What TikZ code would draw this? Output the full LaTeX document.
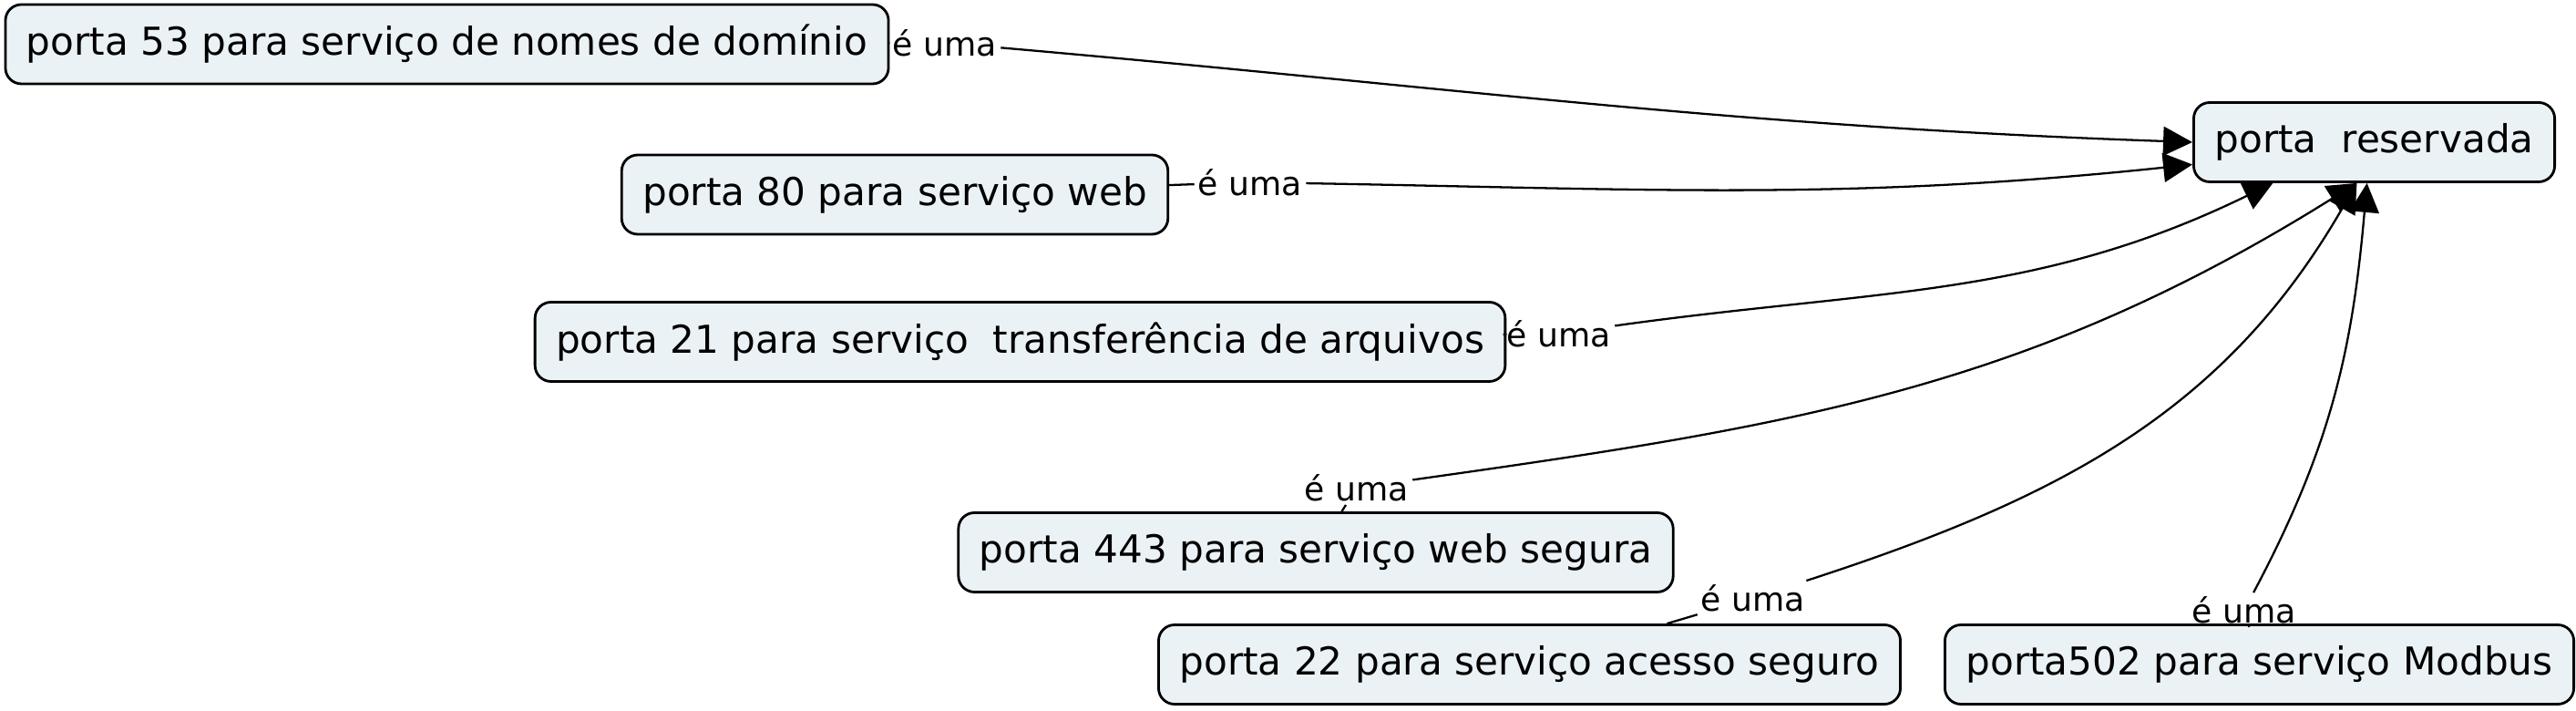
\documentclass[tikz,border=0pt]{standalone}
\usepackage{fontspec}
\setmainfont{DejaVu Sans}
\usetikzlibrary{arrows.meta}
\definecolor{conceptfill}{RGB}{235,242,245}

\begin{document}
\begin{tikzpicture}[
    concept/.style={draw=black, line width=0.8pt, rounded corners=5pt,
                    fill=conceptfill, minimum height=0.87cm, inner xsep=0.23cm,
                    font=\fontsize{12}{14}\selectfont},
    link/.style={inner sep=1pt, font=\fontsize{10.3}{12}\selectfont},
    rel/.style={line width=0.65pt},
    isa/.style={rel, -{Triangle[length=0.32cm, width=0.32cm]}}
]
    \useasboundingbox (0,0) rectangle (28.27,7.80);

    % Target concept
    \node[concept] (res) at (26.055,6.24) {porta\ \ reservada};

    % Ports
    \node[concept] (dns) at (4.905,7.315) {porta 53 para serviço de nomes de domínio};
    \node[concept] (web) at (9.82,5.665) {porta 80 para serviço web};
    \node[concept] (ftp) at (11.195,4.05) {porta 21 para serviço\ \ transferência de arquivos};
    \node[concept] (https) at (14.44,1.74) {porta 443 para serviço web segura};
    \node[concept] (ssh) at (16.785,0.51) {porta 22 para serviço acesso seguro};
    \node[concept] (mod) at (24.795,0.51) {porta502 para serviço Modbus};

    % Linking phrases
    \node[link] (l1) at (10.37,7.33) {é uma};
    \node[link] (l2) at (13.72,5.80) {é uma};
    \node[link] (l3) at (17.11,4.14) {é uma};
    \node[link] (l4) at (14.89,2.45) {é uma};
    \node[link] (l5) at (19.24,1.24) {é uma};
    \node[link] (l6) at (24.63,1.11) {é uma};

    % Concept to phrase
    \draw[rel] (dns) -- (l1);
    \draw[rel] (web) -- (l2);
    \draw[rel] (ftp) -- (l3);
    \draw[rel] (https) -- (l4);
    \draw[rel] (ssh) -- (l5);
    \draw[rel] (mod) -- (l6);

    % Phrase to target
    \draw[isa] (l1) to[out=-5, in=178] (res.west);
    \draw[isa] (l2) to[out=-1, in=186] (res.187.4);
    \draw[isa] (l3) to[out=8, in=206] (res.202);
    \draw[isa] (l4) to[out=8, in=212] (res.247);
    \draw[isa] (l5) to[out=18, in=240] (res.247);
    \draw[isa] (l6) to[out=62, in=265] (res.260.7);
\end{tikzpicture}
\end{document}
